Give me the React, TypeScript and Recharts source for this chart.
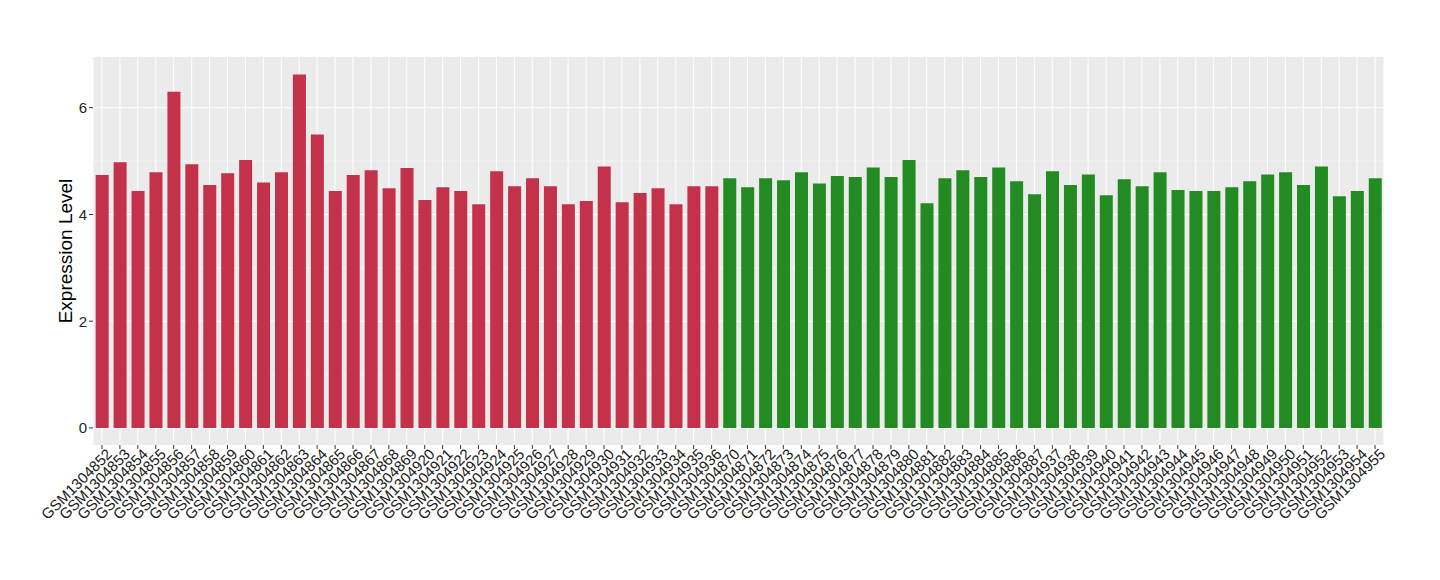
import { Bar, BarChart, CartesianGrid, Cell, XAxis, YAxis } from 'recharts';

// Samples in plotting order.
const RED_SAMPLES = [
  'GSM1304852', 'GSM1304853', 'GSM1304854', 'GSM1304855', 'GSM1304856', 'GSM1304857',
  'GSM1304858', 'GSM1304859', 'GSM1304860', 'GSM1304861', 'GSM1304862', 'GSM1304863',
  'GSM1304864', 'GSM1304865', 'GSM1304866', 'GSM1304867', 'GSM1304868', 'GSM1304869',
  'GSM1304920', 'GSM1304921', 'GSM1304922', 'GSM1304923', 'GSM1304924', 'GSM1304925',
  'GSM1304926', 'GSM1304927', 'GSM1304928', 'GSM1304929', 'GSM1304930', 'GSM1304931',
  'GSM1304932', 'GSM1304933', 'GSM1304934', 'GSM1304935', 'GSM1304936',
];
const RED_VALUES = [
  4.74, 4.98, 4.44, 4.79, 6.3, 4.94, 4.55, 4.77, 5.02, 4.6, 4.79, 6.62,
  5.5, 4.44, 4.74, 4.83, 4.49, 4.87, 4.27, 4.51, 4.44, 4.19, 4.81, 4.53,
  4.68, 4.53, 4.19, 4.25, 4.9, 4.23, 4.4, 4.49, 4.19, 4.53, 4.53,
];

const GREEN_SAMPLES = [
  'GSM1304870', 'GSM1304871', 'GSM1304872', 'GSM1304873', 'GSM1304874', 'GSM1304875',
  'GSM1304876', 'GSM1304877', 'GSM1304878', 'GSM1304879', 'GSM1304880', 'GSM1304881',
  'GSM1304882', 'GSM1304883', 'GSM1304884', 'GSM1304885', 'GSM1304886', 'GSM1304887',
  'GSM1304937', 'GSM1304938', 'GSM1304939', 'GSM1304940', 'GSM1304941', 'GSM1304942',
  'GSM1304943', 'GSM1304944', 'GSM1304945', 'GSM1304946', 'GSM1304947', 'GSM1304948',
  'GSM1304949', 'GSM1304950', 'GSM1304951', 'GSM1304952', 'GSM1304953', 'GSM1304954',
  'GSM1304955',
];
const GREEN_VALUES = [
  4.68, 4.51, 4.68, 4.64, 4.79, 4.58, 4.72, 4.7, 4.88, 4.7, 5.02, 4.21,
  4.68, 4.83, 4.7, 4.88, 4.62, 4.38, 4.81, 4.55, 4.75, 4.36, 4.66, 4.53,
  4.79, 4.46, 4.44, 4.44, 4.51, 4.62, 4.75, 4.79, 4.55, 4.9, 4.34, 4.44,
  4.68,
];

const Y_TICKS = [0, 2, 4, 6];
const Y_MINOR = [1, 3, 5];

const RED = '#C3324A';
const GREEN = '#228B22';

const data = [
  ...RED_SAMPLES.map((s, i) => ({ sample: s, value: RED_VALUES[i], color: RED })),
  ...GREEN_SAMPLES.map((s, i) => ({ sample: s, value: GREEN_VALUES[i], color: GREEN })),
];

const FONT = '"Liberation Sans", Arial, Helvetica, sans-serif';

function SampleTick(props: any) {
  const { x, y, payload } = props;
  return (
    <text
      x={x}
      y={y}
      dy="0.71em"
      dx={5}
      textAnchor="end"
      transform={`rotate(-45 ${x} ${y})`}
      style={{ fontSize: 15, fontFamily: FONT }}
      fill="#1a1a1a"
    >
      {payload.value}
    </text>
  );
}

function YTitle(props: any) {
  const { viewBox } = props;
  const cy = viewBox.y + viewBox.height / 2;
  return (
    <text
      x={65}
      y={cy}
      transform={`rotate(-90 65 ${cy})`}
      textAnchor="middle"
      dominantBaseline="central"
      style={{ fontSize: 19, fontFamily: FONT }}
      fill="#000"
    >
      Expression Level
    </text>
  );
}

export default function App() {
  return (
    <div style={{ position: 'absolute', left: 0, top: 0, background: '#fff' }}>
      <BarChart
        width={1440}
        height={580}
        data={data}
        margin={{ top: 57, right: 56, bottom: 0, left: 0 }}
        barCategoryGap="15%"
        style={{ fontFamily: FONT }}
      >
        <CartesianGrid
          fill="#EBEBEB"
          stroke="#FFFFFF"
          strokeWidth={1.1}
          horizontalValues={Y_TICKS}
        />
        <CartesianGrid
          vertical={false}
          fill="none"
          stroke="#FFFFFF"
          strokeWidth={0.5}
          horizontalValues={Y_MINOR}
        />
        <XAxis
          dataKey="sample"
          type="category"
          interval={0}
          height={135}
          axisLine={false}
          tickLine={{ stroke: '#333333' }}
          tickSize={4}
          tickMargin={2}
          tick={<SampleTick />}
        />
        <YAxis
          type="number"
          domain={[-0.32, 6.95]}
          allowDataOverflow
          ticks={Y_TICKS}
          width={93}
          axisLine={false}
          tickLine={{ stroke: '#333333' }}
          tickSize={4}
          tickMargin={2}
          tick={{ fill: '#262626', fontSize: 15, fontFamily: FONT }}
          label={<YTitle />}
        />
        <Bar dataKey="value" isAnimationActive={false}>
          {data.map((d) => (
            <Cell key={d.sample} fill={d.color} />
          ))}
        </Bar>
      </BarChart>
    </div>
  );
}
